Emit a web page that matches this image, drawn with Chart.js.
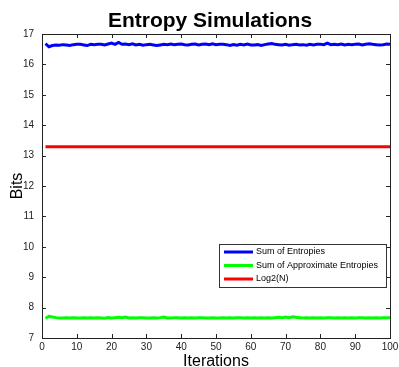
<!DOCTYPE html>
<html>
<head>
<meta charset="utf-8">
<script src="https://cdn.jsdelivr.net/npm/chart.js@4"></script>
<style>
  html, body { margin: 0; padding: 0; background: #fff; }
  #wrap { width: 399px; height: 367px; position: relative; }
</style>
</head>
<body>
<div id="wrap"><canvas id="entropyChart" width="399" height="367"></canvas></div>
<script>
// ------------------------------------
// Data
// ------------------------------------
const iterations = Array.from({ length: 100 }, (_, i) => i + 1);

const sumEntropies = [
  16.68, 16.58, 16.62, 16.64, 16.63, 16.65, 16.64, 16.62, 16.65, 16.66,
  16.66, 16.64, 16.62, 16.66, 16.65, 16.66, 16.66, 16.64, 16.67, 16.70,
  16.66, 16.72, 16.66, 16.67, 16.65, 16.68, 16.64, 16.66, 16.63, 16.65,
  16.66, 16.64, 16.62, 16.64, 16.66, 16.65, 16.67, 16.65, 16.66, 16.67,
  16.65, 16.64, 16.66, 16.67, 16.64, 16.66, 16.67, 16.65, 16.68, 16.65,
  16.66, 16.66, 16.65, 16.62, 16.65, 16.63, 16.66, 16.64, 16.67, 16.64,
  16.64, 16.65, 16.62, 16.65, 16.67, 16.69, 16.66, 16.65, 16.64, 16.66,
  16.63, 16.65, 16.66, 16.64, 16.65, 16.63, 16.66, 16.64, 16.66, 16.66,
  16.65, 16.70, 16.65, 16.66, 16.65, 16.67, 16.64, 16.66, 16.65, 16.66,
  16.67, 16.64, 16.66, 16.68, 16.66, 16.65, 16.64, 16.65, 16.67, 16.66
];

const sumApproxEntropies = [
  7.65, 7.71, 7.69, 7.67, 7.66, 7.66, 7.67, 7.66, 7.67, 7.66,
  7.66, 7.67, 7.66, 7.67, 7.66, 7.67, 7.66, 7.65, 7.67, 7.66,
  7.67, 7.68, 7.67, 7.69, 7.66, 7.67, 7.66, 7.67, 7.67, 7.66,
  7.66, 7.67, 7.66, 7.67, 7.69, 7.66, 7.66, 7.67, 7.67, 7.66,
  7.67, 7.66, 7.67, 7.66, 7.67, 7.67, 7.66, 7.66, 7.67, 7.66,
  7.66, 7.67, 7.66, 7.67, 7.66, 7.67, 7.67, 7.66, 7.67, 7.66,
  7.67, 7.66, 7.67, 7.66, 7.67, 7.66, 7.67, 7.68, 7.67, 7.69,
  7.67, 7.70, 7.68, 7.67, 7.66, 7.67, 7.66, 7.67, 7.66, 7.67,
  7.66, 7.67, 7.67, 7.66, 7.67, 7.66, 7.67, 7.66, 7.67, 7.66,
  7.67, 7.67, 7.66, 7.67, 7.66, 7.67, 7.66, 7.67, 7.67, 7.67
];

const log2N = iterations.map(() => 13.29);

const seriesLabels = ['Sum of Entropies', 'Sum of Approximate Entropies', 'Log2(N)'];
const seriesColors = ['#0000ff', '#00ff00', '#ff0000'];
const xTicks = [0, 10, 20, 30, 40, 50, 60, 70, 80, 90, 100];
const yTicks = [7, 8, 9, 10, 11, 12, 13, 14, 15, 16, 17];
const chartTitle = 'Entropy Simulations';

const FONT = "'Liberation Sans', Arial, sans-serif";

// MATLAB style box with inward ticks, title and legend inside the axes
const matlabAxes = {
  id: 'matlabAxes',
  afterDatasetsDraw(chart) {
    const { ctx, chartArea: a, scales } = chart;
    ctx.save();
    ctx.strokeStyle = '#222';
    ctx.lineWidth = 1;
    ctx.beginPath();
    xTicks.forEach(v => {
      const x = Math.round(scales.x.getPixelForValue(v)) + 0.5;
      ctx.moveTo(x, a.bottom); ctx.lineTo(x, a.bottom - 4);
      ctx.moveTo(x, a.top); ctx.lineTo(x, a.top + 4);
    });
    yTicks.forEach(v => {
      const y = Math.round(scales.y.getPixelForValue(v)) + 0.5;
      ctx.moveTo(a.left, y); ctx.lineTo(a.left + 4, y);
      ctx.moveTo(a.right, y); ctx.lineTo(a.right - 4, y);
    });
    ctx.stroke();
    ctx.strokeRect(Math.round(a.left) + 0.5, Math.round(a.top) + 0.5,
                   Math.round(a.right - a.left), Math.round(a.bottom - a.top));

    // title
    ctx.fillStyle = '#000';
    ctx.font = 'bold 21px ' + FONT;
    ctx.textAlign = 'center';
    ctx.textBaseline = 'alphabetic';
    ctx.fillText(chartTitle, 210, 27);

    // legend box
    ctx.textAlign = 'left';
    const bx = Math.round(a.right) - 171, by = Math.round(a.bottom) - 94;
    const bw = 167, bh = 43;
    ctx.fillStyle = '#fff';
    ctx.fillRect(bx, by, bw, bh);
    ctx.strokeStyle = '#333';
    ctx.strokeRect(bx + 0.5, by + 0.5, bw, bh);
    ctx.font = '9px ' + FONT;
    ctx.textBaseline = 'middle';
    seriesLabels.forEach((lbl, i) => {
      const y = by + 8 + i * 13.5;
      ctx.strokeStyle = seriesColors[i];
      ctx.lineWidth = 3;
      ctx.beginPath();
      ctx.moveTo(bx + 5, y); ctx.lineTo(bx + 34, y);
      ctx.stroke();
      ctx.fillStyle = '#000';
      ctx.fillText(lbl, bx + 37, y);
    });
    ctx.restore();
  }
};

new Chart(document.getElementById('entropyChart').getContext('2d'), {
  type: 'line',
  data: {
    labels: iterations,
    datasets: [
      { label: seriesLabels[0], data: sumEntropies, borderColor: seriesColors[0] },
      { label: seriesLabels[1], data: sumApproxEntropies, borderColor: seriesColors[1] },
      { label: seriesLabels[2], data: log2N, borderColor: seriesColors[2] }
    ].map(d => Object.assign(d, { borderWidth: 3, pointRadius: 0, tension: 0, fill: false }))
  },
  options: {
    responsive: false,
    animation: false,
    layout: { padding: { top: 34, right: 9, bottom: 0, left: 0 } },
    plugins: {
      legend: { display: false },
      tooltip: { enabled: false },
      title: { display: false }
    },
    scales: {
      x: {
        type: 'linear',
        min: 0, max: 100,
        afterFit: s => { s.height = 29; s.paddingLeft = 0; s.paddingRight = 0; },
        afterBuildTicks: s => { s.ticks = xTicks.map(v => ({ value: v })); },
        grid: { display: false, drawTicks: false },
        border: { display: false },
        ticks: { color: '#222', font: { family: FONT, size: 10 }, padding: 3, maxRotation: 0 },
        title: { display: true, text: 'Iterations', color: '#000', font: { family: FONT, size: 16, lineHeight: 0.7 }, padding: 0 }
      },
      y: {
        min: 7, max: 17,
        afterFit: s => { s.width = 42; s.paddingTop = 0; s.paddingBottom = 0; },
        afterBuildTicks: s => { s.ticks = yTicks.map(v => ({ value: v })); },
        grid: { display: false, drawTicks: false },
        border: { display: false },
        ticks: { color: '#222', font: { family: FONT, size: 10 }, padding: 8 },
        title: { display: true, text: 'Bits', color: '#000', font: { family: FONT, size: 16 }, padding: { top: 8, bottom: 0 } }
      }
    }
  },
  plugins: [matlabAxes]
});
</script>
</body>
</html>
